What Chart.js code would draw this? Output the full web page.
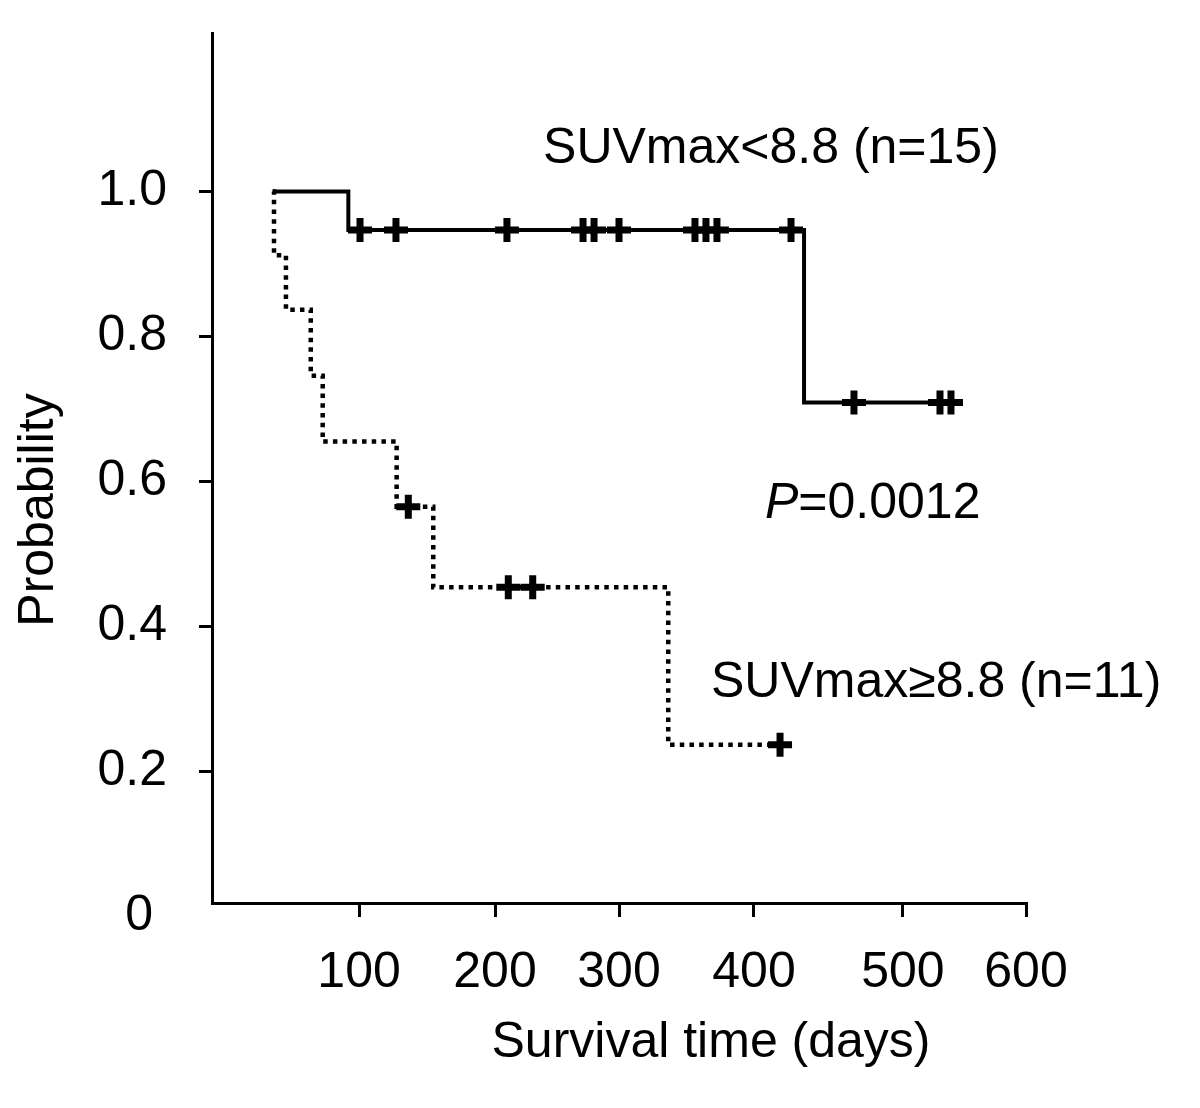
<!DOCTYPE html>
<html>
<head>
<meta charset="utf-8">
<script src="https://cdn.jsdelivr.net/npm/chart.js@4.4.1/dist/chart.umd.min.js"></script>
<style>
  body { margin: 0; background: #fff; }
  canvas { display: block; }
</style>
</head>
<body>
<canvas id="km" width="1200" height="1108"></canvas>
<script>
// Kaplan-Meier curves (time in days)
// SUVmax < 8.8 : steps (time, survival after the step)
var lowTimes = [44.7, 100.5, 436.4, 544.7];
var lowSurv = [1.0, 0.947, 0.709, 0.709];
var lowCensorTimes = [109.1, 135.6, 217.4, 273.5, 281.6, 300.0, 356.0, 364.1, 372.2, 426.8, 473.2, 536.6, 544.7];
var lowCensorSurv = [0.947, 0.947, 0.947, 0.947, 0.947, 0.947, 0.947, 0.947, 0.947, 0.947, 0.709, 0.709, 0.709];

// SUVmax >= 8.8
var highTimes = [44.7, 45.7, 54.5, 72.8, 81.6, 136.1, 163.1, 336.3, 418.7];
var highSurv = [1.0, 0.912, 0.837, 0.746, 0.655, 0.565, 0.454, 0.237, 0.237];
var highCensorTimes = [144.7, 218.4, 236.4, 418.7];
var highCensorSurv = [0.565, 0.454, 0.454, 0.237];

// axis ticks (the x labels sit where the figure puts them)
var xTickAt = [108.4, 208.6, 300, 399.5, 509.3, 600];
var xTickLabels = ['100', '200', '300', '400', '500', '600'];
var yTickAt = [0, 0.2, 0.4, 0.6, 0.8, 1.0];
var yTickLabels = ['0 ', '0.2', '0.4', '0.6', '0.8', '1.0'];

// text in the plot: [text, day, probability (baseline)]
var notes = [
  ['SUVmax<8.8 (n=15)', 244.0, 1.039],
  ['SUVmax\u22658.8 (n=11)', 367.8, 0.303]
];
var pNote = ['P', '=0.0012', 407.6, 0.550];

var FONT = '"Liberation Sans", Arial, sans-serif';

function pts(xs, ys) {
  return xs.map(function (x, i) { return {x: x, y: ys[i]}; });
}

var textPlugin = {
  id: 'kmText',
  afterDraw: function (chart) {
    var ctx = chart.ctx;
    var xs = chart.scales.x, ys = chart.scales.y;
    ctx.save();
    ctx.fillStyle = '#000';
    ctx.textBaseline = 'alphabetic';
    ctx.textAlign = 'left';
    ctx.font = '50px ' + FONT;
    notes.forEach(function (n) {
      ctx.fillText(n[0], xs.getPixelForValue(n[1]), ys.getPixelForValue(n[2]));
    });
    // P value, italic P
    var px = xs.getPixelForValue(pNote[2]), py = ys.getPixelForValue(pNote[3]);
    ctx.font = 'italic 50px ' + FONT;
    ctx.fillText(pNote[0], px, py);
    var w = ctx.measureText(pNote[0]).width;
    ctx.font = '50px ' + FONT;
    ctx.fillText(pNote[1], px + w, py);
    // axis titles
    ctx.textAlign = 'center';
    ctx.fillText('Survival time (days)', 711, 1057);
    ctx.translate(53, 510);
    ctx.rotate(-Math.PI / 2);
    ctx.fillText('Probability', 0, 0);
    ctx.restore();
  }
};

var config = {
  type: 'line',
  data: {
    datasets: [
      {
        label: 'SUVmax<8.8',
        data: pts(lowTimes, lowSurv),
        stepped: 'before',
        borderColor: '#000',
        borderWidth: 4,
        pointRadius: 0,
        fill: false
      },
      {
        label: 'SUVmax>=8.8',
        data: pts(highTimes, highSurv),
        stepped: 'before',
        borderColor: '#000',
        borderWidth: 4.5,
        borderDash: [4.5, 5.2],
        borderCapStyle: 'butt',
        pointRadius: 0,
        fill: false
      },
      {
        label: 'censored low',
        data: pts(lowCensorTimes, lowCensorSurv),
        showLine: false,
        pointStyle: 'cross',
        pointRadius: 12,
        pointBorderWidth: 7,
        borderColor: '#000'
      },
      {
        label: 'censored high',
        data: pts(highCensorTimes, highCensorSurv),
        showLine: false,
        pointStyle: 'cross',
        pointRadius: 12,
        pointBorderWidth: 7,
        borderColor: '#000'
      }
    ]
  },
  options: {
    responsive: false,
    animation: false,
    layout: { padding: { top: 33, right: 174, left: 0, bottom: 0 } },
    plugins: {
      legend: { display: false },
      tooltip: { enabled: false }
    },
    scales: {
      x: {
        type: 'linear',
        min: 0,
        max: 600,
        afterFit: function (s) { s.height = 205; },
        afterBuildTicks: function (s) {
          s.ticks = xTickAt.map(function (v) { return {value: v}; });
        },
        grid: { drawOnChartArea: false, tickLength: 14, lineWidth: 3, color: '#000' },
        border: { color: '#000', width: 3 },
        ticks: {
          autoSkip: false,
          maxRotation: 0,
          padding: 26,
          color: '#000',
          font: { family: FONT, size: 50 },
          callback: function (v, i) { return xTickLabels[i]; }
        }
      },
      y: {
        type: 'linear',
        min: 0.0186,
        max: 1.2186,
        afterFit: function (s) { s.width = 212; },
        afterBuildTicks: function (s) {
          s.ticks = yTickAt.map(function (v) { return {value: v}; });
        },
        grid: {
          drawOnChartArea: false,
          tickLength: 13,
          lineWidth: 3,
          // no tick mark for the 0 label, it sits below the x axis
          color: function (c) { return c.tick && c.tick.value === 0 ? 'rgba(0,0,0,0)' : '#000'; }
        },
        border: { color: '#000', width: 3 },
        ticks: {
          autoSkip: false,
          padding: 32,
          color: '#000',
          font: { family: FONT, size: 50, lineHeight: 0.02 },
          callback: function (v, i) { return yTickLabels[i]; }
        }
      }
    }
  },
  plugins: [textPlugin]
};

var chart = new Chart(document.getElementById('km'), config);
</script>
</body>
</html>
